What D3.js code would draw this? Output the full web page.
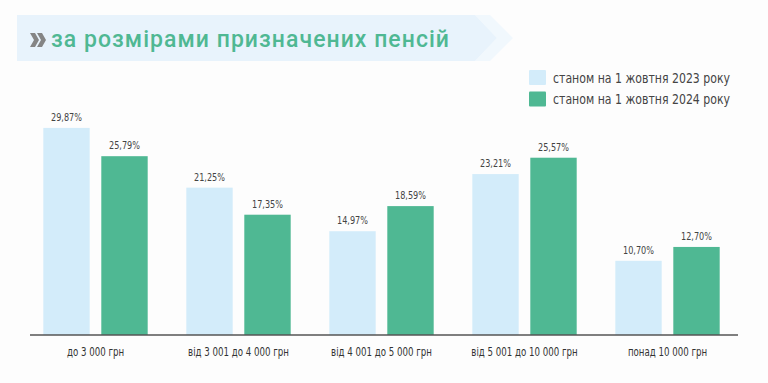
<!DOCTYPE html>
<html>
<head>
<meta charset="utf-8">
<script src="https://cdn.jsdelivr.net/npm/d3@7"></script>
<style>
  body { margin: 0; background: #fdfdfd; }
  .narrow { font-family: "DejaVu Sans Condensed", "Roboto", sans-serif; }
</style>
</head>
<body>
<div class="chart"></div>
<script>
// Pension size distribution, grouped bars

var categories = ["до 3 000 грн", "від 3 001 до 4 000 грн", "від 4 001 до 5 000 грн", "від 5 001 до 10 000 грн", "понад 10 000 грн"];
var seriesNames = ["станом на 1 жовтня 2023 року", "станом на 1 жовтня 2024 року"];
var values2023 = [29.87, 21.25, 14.97, 23.21, 10.70];
var values2024 = [25.79, 17.35, 18.59, 25.57, 12.70];
var colors = ["#d3ecfa", "#4fb893"];

var svgWidth = 768, svgHeight = 383;

var svg = d3.select(".chart")
  .append("svg")
  .attr("width", svgWidth)
  .attr("height", svgHeight);

// squeeze a text to a share of its natural width (the source font is condensed)
function squeeze(sel, factor) {
  sel.each(function() {
    var len = this.getComputedTextLength();
    d3.select(this)
      .attr("textLength", len * factor)
      .attr("lengthAdjust", "spacingAndGlyphs");
  });
}

// title banner
var banner = svg.append("g");
banner.append("path")
  .attr("d", "M475,15 L497,38 L475,61 L490,61 L513,38 L490,15 Z")
  .attr("fill", "#f1f8fd");
banner.append("path")
  .attr("d", "M17,15 L475,15 L497,38 L475,61 L17,61 Z")
  .attr("fill", "#e8f3fc");
banner.append("path")
  .attr("d", "M30,33 L35,33 L39,40 L35,47 L30,47 L34,40 Z M37,33 L42,33 L46,40 L42,47 L37,47 L41,40 Z")
  .attr("fill", "#858585");
banner.append("text")
  .attr("x", 51)
  .attr("y", 47)
  .attr("fill", "#4fb893")
  .attr("textLength", 398)
  .attr("lengthAdjust", "spacing")
  .style("font-family", "Roboto, sans-serif")
  .style("font-size", "23px")
  .style("font-weight", "500")
  .text("за розмірами призначених пенсій");

// scales
var x0 = d3.scaleBand()
  .domain(categories)
  .range([29, 734])
  .paddingInner(0.27)
  .paddingOuter(0.1);

var x1 = d3.scaleBand()
  .domain([0, 1])
  .range([0, x0.bandwidth()])
  .paddingInner(0.2);

var y = d3.scaleLinear()
  .domain([0, 30])
  .range([335, 127]);

var data = categories.map(function(c, i) {
  return { cat: c, vals: [values2023[i], values2024[i]] };
});

var groups = svg.append("g")
  .selectAll("g")
  .data(data)
  .enter()
  .append("g")
  .attr("transform", d => `translate(${x0(d.cat)},0)`);

groups.selectAll("rect")
  .data(d => d.vals)
  .enter()
  .append("rect")
  .attr("x", (d, i) => x1(i))
  .attr("y", d => y(d))
  .attr("width", x1.bandwidth())
  .attr("height", d => y(0) - y(d))
  .attr("fill", (d, i) => colors[i]);

var valueLabels = groups.selectAll("text")
  .data(d => d.vals)
  .enter()
  .append("text")
  .attr("class", "narrow")
  .attr("x", (d, i) => x1(i) + x1.bandwidth() / 2)
  .attr("y", d => y(d) - 7)
  .attr("text-anchor", "middle")
  .attr("fill", "#444")
  .style("font-size", "11px")
  .text(d => d.toFixed(2).replace(".", ",") + "%");
squeeze(valueLabels, 0.82);

// x axis (baseline drawn a bit wider than the bands)
var xAxis = svg.append("g")
  .attr("transform", `translate(0,${y(0)})`)
  .call(d3.axisBottom(x0).tickSize(0).tickPadding(12));
xAxis.select(".domain").remove();
xAxis.append("line")
  .attr("x1", 30)
  .attr("x2", 738)
  .attr("stroke", "#555")
  .attr("stroke-width", 1.3);
var tickTexts = xAxis.selectAll("text")
  .attr("class", "narrow")
  .attr("fill", "#333")
  .style("font-size", "12px");
squeeze(tickTexts, 0.8);

// legend
var legend = svg.append("g")
  .selectAll("g")
  .data(seriesNames)
  .enter()
  .append("g")
  .attr("transform", (d, i) => `translate(529,${70 + i * 21.5})`);

legend.append("rect")
  .attr("width", 17)
  .attr("height", 15)
  .attr("rx", 1)
  .attr("fill", (d, i) => colors[i]);

legend.append("text")
  .attr("class", "narrow")
  .attr("x", 24)
  .attr("y", 12.5)
  .attr("fill", "#444")
  .attr("textLength", 177)
  .attr("lengthAdjust", "spacingAndGlyphs")
  .style("font-size", "13.5px")
  .text(d => d);
</script>
</body>
</html>
